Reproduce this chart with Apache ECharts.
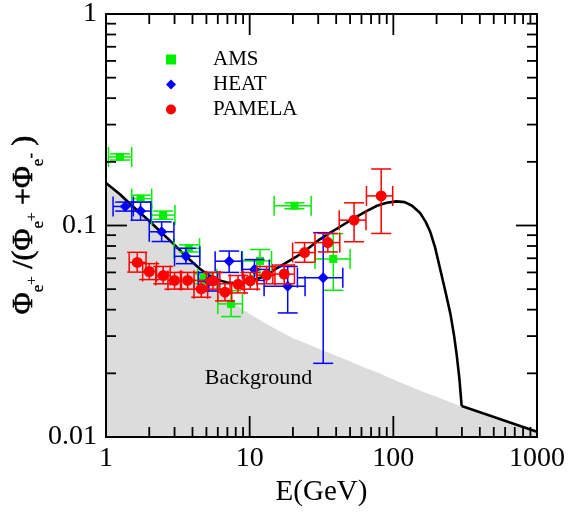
<!DOCTYPE html>
<html><head><meta charset="utf-8">
<script src="https://cdn.jsdelivr.net/npm/echarts@6/dist/echarts.min.js"></script>
<style>html,body{margin:0;padding:0;background:#fff}#c{width:569px;height:512px}</style>
</head><body><div id="c"></div>
<script>
// ---- data ----
const curveE = [1, 1.25, 1.5, 1.75, 2, 2.5, 3, 3.5, 4, 4.5, 5.2, 6, 7, 8, 9, 10, 11.5, 13, 15, 17.5, 21, 25, 30, 36, 44, 53, 65, 77, 90, 105, 120, 135, 153, 168, 180, 195, 211, 230, 250, 265, 276, 288, 299];
const curveY = [0.159, 0.1405, 0.125, 0.114, 0.105, 0.091, 0.081, 0.073, 0.067, 0.0625, 0.058, 0.0553, 0.0538, 0.0533, 0.0535, 0.0545, 0.0562, 0.058, 0.062, 0.066, 0.071, 0.077, 0.085, 0.092, 0.100, 0.108, 0.117, 0.124, 0.128, 0.130, 0.129, 0.124, 0.115, 0.104, 0.094, 0.079, 0.063, 0.049, 0.038, 0.030, 0.0245, 0.019, 0.0140];
const tailE = [299, 1000];
const tailY = [0.0140, 0.0106];
const bgE = [1, 1.25, 1.5, 1.75, 2, 2.5, 3, 3.5, 4, 4.5, 5, 5.5, 6.2, 7.3, 8.6, 10, 13, 16.3, 20, 25, 30, 40, 50, 61, 80, 100, 153, 200, 299, 500, 1000];
const bgY = [0.159, 0.1405, 0.125, 0.114, 0.105, 0.091, 0.081, 0.073, 0.067, 0.0615, 0.057, 0.053, 0.049, 0.045, 0.0408, 0.0382, 0.0343, 0.0315, 0.0293, 0.0276, 0.0262, 0.0242, 0.0228, 0.0215, 0.0200, 0.0187, 0.0166, 0.0155, 0.0139, 0.0122, 0.0106];

const amsE   = [1.25, 1.74, 2.5, 3.77, 4.8, 7.42, 11.8, 20.5, 38.2];
const amsY   = [0.211, 0.134, 0.112, 0.078, 0.056, 0.0426, 0.068, 0.124, 0.0695];
const amsElo = [1.04, 1.51, 2.08, 2.98, 4.36, 6.0, 8.9, 14.8, 28.5];
const amsEhi = [1.51, 2.08, 3.02, 4.48, 5.9, 8.9, 14.2, 26.8, 50.0];
const amsYlo = [0.204, 0.129, 0.107, 0.075, 0.053, 0.0371, 0.058, 0.120, 0.0494];
const amsYhi = [0.218, 0.139, 0.117, 0.081, 0.059, 0.0492, 0.077, 0.128, 0.0915];

const heatE   = [1.36, 1.74, 2.44, 3.6, 5.2, 7.2, 10.8, 18.4, 32.5];
const heatY   = [0.123, 0.117, 0.0934, 0.0715, 0.0545, 0.0678, 0.062, 0.0516, 0.0566];
const heatElo = [1.12, 1.51, 2.0, 3.0, 4.4, 5.75, 8.9, 12.6, 21.5];
const heatEhi = [1.55, 2.05, 2.97, 4.5, 6.0, 8.8, 13.7, 24.3, 44.5];
const heatYlo = [0.117, 0.106, 0.084, 0.066, 0.049, 0.060, 0.055, 0.0386, 0.0223];
const heatYhi = [0.129, 0.129, 0.104, 0.078, 0.060, 0.0757, 0.069, 0.064, 0.0925];

const pamE   = [1.65, 2.0, 2.5, 3.0, 3.7, 4.6, 5.55, 6.73, 8.3, 10.1, 13.1, 17.4, 24.1, 35.0, 53.3, 82.3];
const pamY   = [0.0669, 0.0606, 0.058, 0.055, 0.055, 0.0502, 0.0548, 0.0484, 0.0527, 0.0548, 0.0582, 0.0589, 0.0745, 0.083, 0.106, 0.138];
const pamElo = [1.45, 1.8, 2.22, 2.7, 3.3, 4.1, 5.0, 6.0, 7.3, 9.0, 11.2, 14.5, 19.9, 28.5, 42.0, 65.0];
const pamEhi = [1.9, 2.25, 2.8, 3.35, 4.1, 5.1, 6.2, 7.5, 9.2, 11.3, 15.0, 20.5, 28.5, 42.4, 64.5, 99.0];
const pamYlo = [0.0602, 0.0555, 0.053, 0.050, 0.050, 0.0458, 0.050, 0.0440, 0.048, 0.050, 0.053, 0.053, 0.067, 0.075, 0.0838, 0.0917];
const pamYhi = [0.0747, 0.066, 0.064, 0.060, 0.060, 0.0550, 0.060, 0.0530, 0.058, 0.060, 0.064, 0.065, 0.083, 0.0917, 0.128, 0.185];

const xMajorTicks = [1, 10, 100, 1000];
const xMinorTicks = [2,3,4,5,6,7,8,9,20,30,40,50,60,70,80,90,200,300,400,500,600,700,800,900];
const yMajorTicks = [0.01, 0.1, 1];
const yMinorTicks = [0.02,0.03,0.04,0.05,0.06,0.07,0.08,0.09,0.2,0.3,0.4,0.5,0.6,0.7,0.8,0.9];
const xTickLabels = ['1', '10', '100', '1000'];
const yTickLabels = ['0.01', '0.1', '1'];

const FONT = 'Liberation Serif';
const GREEN = '#00ee00', BLUE = '#0000ff', RED = '#ff0000';

function zip(a, b) { return a.map((v, i) => [v, b[i]]); }
function errData(E, Y, El, Eh, Yl, Yh) { return E.map((e, i) => [e, Y[i], El[i], Eh[i], Yl[i], Yh[i]]); }

function errRender(color) {
  return function (params, api) {
    const x = api.value(0), y = api.value(1);
    const c = api.coord([x, y]);
    const pl = api.coord([api.value(2), y]), ph = api.coord([api.value(3), y]);
    const pb = api.coord([x, api.value(4)]), pt = api.coord([x, api.value(5)]);
    const cap = 10;
    const st = { stroke: color, lineWidth: 1.5 };
    return { type: 'group', children: [
      { type: 'line', shape: { x1: pl[0], y1: c[1], x2: ph[0], y2: c[1] }, style: st },
      { type: 'line', shape: { x1: pl[0], y1: c[1] - cap, x2: pl[0], y2: c[1] + cap }, style: st },
      { type: 'line', shape: { x1: ph[0], y1: c[1] - cap, x2: ph[0], y2: c[1] + cap }, style: st },
      { type: 'line', shape: { x1: c[0], y1: pb[1], x2: c[0], y2: pt[1] }, style: st },
      { type: 'line', shape: { x1: c[0] - cap, y1: pb[1], x2: c[0] + cap, y2: pb[1] }, style: st },
      { type: 'line', shape: { x1: c[0] - cap, y1: pt[1], x2: c[0] + cap, y2: pt[1] }, style: st }
    ] };
  };
}

function xTickRender(params, api) {
  const cs = params.coordSys;
  const p = api.coord([api.value(0), 0.1]);
  const len = api.value(1);
  const st = { stroke: '#000', lineWidth: 1.8 };
  const yb = cs.y + cs.height, yt = cs.y;
  return { type: 'group', children: [
    { type: 'line', shape: { x1: p[0], y1: yb, x2: p[0], y2: yb - len }, style: st },
    { type: 'line', shape: { x1: p[0], y1: yt, x2: p[0], y2: yt + len }, style: st }
  ] };
}
function yTickRender(params, api) {
  const cs = params.coordSys;
  const p = api.coord([10, api.value(0)]);
  const len = api.value(1);
  const st = { stroke: '#000', lineWidth: 1.8 };
  const xl = cs.x, xr = cs.x + cs.width;
  return { type: 'group', children: [
    { type: 'line', shape: { x1: xl, y1: p[1], x2: xl + len, y2: p[1] }, style: st },
    { type: 'line', shape: { x1: xr, y1: p[1], x2: xr - len, y2: p[1] }, style: st }
  ] };
}

// y-axis title built from rotated text pieces
const mctx = document.createElement('canvas').getContext('2d');
function tw(t, s) { mctx.font = s + 'px "' + FONT + '"'; return mctx.measureText(t).width; }
const titleParts = [['\u03A6', 30, 0], ['e', 17, 10], ['+', 15, 3], [' /(\u03A6', 30, 0], ['e', 17, 10], ['+', 15, 3], [' +\u03A6', 30, 0], ['e', 17, 10], ['-', 16, 3], [' )', 30, 0]];
let total = 0; titleParts.forEach(p => total += tw(p[0], p[1]));
let cur = -total / 2;
const titleChildren = titleParts.map(p => {
  const el = { type: 'text', x: cur, y: p[2] - 0.34 * p[1],
    style: { text: p[0], font: p[1] + 'px "' + FONT + '"', fill: '#000', align: 'left', verticalAlign: 'middle',
      stroke: '#000', lineWidth: p[1] > 20 ? 0.6 : 0.3 } };
  cur += tw(p[0], p[1]);
  return el;
});

const chart = echarts.init(document.getElementById('c'));
const axisLine = { show: true, lineStyle: { color: '#000', width: 2 } };
chart.setOption({
  animation: false,
  backgroundColor: '#fff',
  grid: { left: 106, right: 32, top: 10, bottom: 75 },
  legend: {
    data: ['AMS', 'HEAT', 'PAMELA'], orient: 'vertical', left: 166, top: 49, padding: 0,
    itemWidth: 10, itemHeight: 10, itemGap: 4, selectedMode: false,
    formatter: n => '{a|' + n + '}',
    textStyle: { rich: { a: { fontFamily: FONT, fontSize: 21, color: '#000', lineHeight: 21, padding: [0, 0, 0, 32] } } }
  },
  xAxis: [
    { type: 'log', logBase: 10, min: 1, max: 1000, z: 10, axisLine, axisTick: { show: false }, splitLine: { show: false },
      axisLabel: { fontFamily: FONT, fontSize: 28, color: '#000', margin: 8,
        formatter: v => xTickLabels[Math.round(Math.log10(v))] },
      name: 'E(GeV)', nameLocation: 'middle', nameGap: 38,
      nameTextStyle: { fontFamily: FONT, fontSize: 29, color: '#000' } },
    { type: 'log', logBase: 10, min: 1, max: 1000, position: 'top', z: 10, axisLine, axisTick: { show: false },
      splitLine: { show: false }, axisLabel: { show: false } }
  ],
  yAxis: [
    { type: 'log', logBase: 10, min: 0.01, max: 1, z: 10, axisLine, axisTick: { show: false }, splitLine: { show: false },
      axisLabel: { fontFamily: FONT, fontSize: 28, color: '#000', margin: 9,
        formatter: v => yTickLabels[Math.round(Math.log10(v)) + 2] } },
    { type: 'log', logBase: 10, min: 0.01, max: 1, position: 'right', z: 10, axisLine, axisTick: { show: false },
      splitLine: { show: false }, axisLabel: { show: false } }
  ],
  graphic: [
    { type: 'group', x: 34.5, y: 225, rotation: Math.PI / 2, children: titleChildren },
    { type: 'text', x: 258.5, y: 378, z: 5,
      style: { text: 'Background', font: '22px "' + FONT + '"', fill: '#000', align: 'center', verticalAlign: 'middle' } }
  ],
  series: [
    { type: 'line', name: 'bg', z: 1, data: zip(bgE, bgY), symbol: 'none', smooth: false, silent: true,
      lineStyle: { width: 0 }, areaStyle: { color: '#dcdcdc', opacity: 1, origin: 'start' } },
    { type: 'line', name: 'total', z: 2, data: zip(curveE, curveY), symbol: 'none', smooth: false,
      lineStyle: { color: '#000', width: 2.6, join: 'round' } },
    { type: 'line', name: 'tail', z: 2, data: zip(tailE, tailY), symbol: 'none', lineStyle: { color: '#000', width: 2.6 } },
    { type: 'custom', name: 'amsErr', z: 3, renderItem: errRender(GREEN), data: errData(amsE, amsY, amsElo, amsEhi, amsYlo, amsYhi), encode: { x: 0, y: 1 } },
    { type: 'scatter', name: 'AMS', z: 3, data: zip(amsE, amsY), symbol: 'rect', symbolSize: 8, itemStyle: { color: GREEN, opacity: 1 } },
    { type: 'custom', name: 'heatErr', z: 4, renderItem: errRender(BLUE), data: errData(heatE, heatY, heatElo, heatEhi, heatYlo, heatYhi), encode: { x: 0, y: 1 } },
    { type: 'scatter', name: 'HEAT', z: 4, data: zip(heatE, heatY), symbol: 'diamond', symbolSize: 11, itemStyle: { color: BLUE, opacity: 1 } },
    { type: 'custom', name: 'pamErr', z: 5, renderItem: errRender(RED), data: errData(pamE, pamY, pamElo, pamEhi, pamYlo, pamYhi), encode: { x: 0, y: 1 } },
    { type: 'scatter', name: 'PAMELA', z: 5, data: zip(pamE, pamY), symbol: 'circle', symbolSize: 11, itemStyle: { color: RED, opacity: 1 } },
    { type: 'custom', name: 'xticks', z: 10, silent: true, renderItem: xTickRender,
      data: xMajorTicks.map(v => [v, 21]).concat(xMinorTicks.map(v => [v, 10])), encode: { x: 0 } },
    { type: 'custom', name: 'yticks', z: 10, silent: true, renderItem: yTickRender,
      data: yMajorTicks.map(v => [v, 21]).concat(yMinorTicks.map(v => [v, 10])), encode: { y: 0 } }
  ]
});
</script></body></html>
